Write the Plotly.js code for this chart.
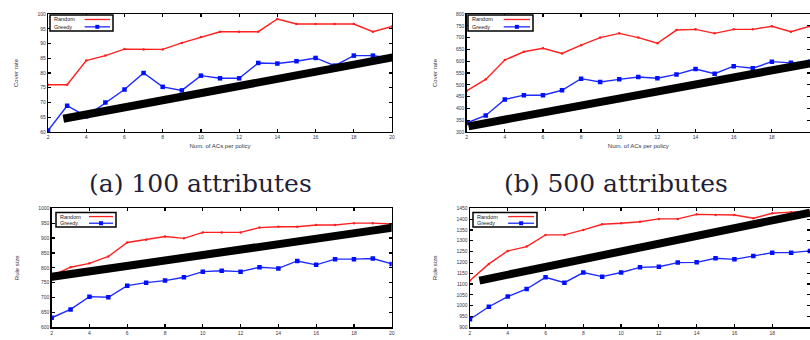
<!DOCTYPE html>
<html>
<head>
<meta charset="utf-8">
<script src="https://cdn.plot.ly/plotly-3.0.1.min.js"></script>
<style>html,body{margin:0;padding:0;background:#fff;}#chart{width:810px;height:340px;}</style>
</head>
<body>
<div id="chart"></div>
<script>
// x values: number of ACs per policy
const acs = [2,3,4,5,6,7,8,9,10,11,12,13,14,15,16,17,18,19,20];
const xTicks = [2,4,6,8,10,12,14,16,18,20];
const seriesNames = ["Random", "Greedy"];
const captions = ["(a) 100 attributes", "(b) 500 attributes"];

// (a) top-left: cover rate, 100 attributes
const aRandom = [76,76,84.2,85.9,88.1,88,88,90.2,92.2,94,94,94,98.3,96.6,96.6,96.6,96.6,94,95.8];
const aGreedy = [60.5,68.9,65.3,70,74.4,80,75.3,74.1,79.1,78.2,78.2,83.4,83.2,84,85.1,82.5,85.9,85.9,85];
const aTrendX = [2.8,20.2];
const aTrendY = [64.5,85.5];

// (b) top-right: cover rate, 500 attributes
const bRandom = [474,523,605,640,655,633,668,700,718,700,676,732,735,718,735,735,748,725,748];
const bGreedy = [338,370,438,456,456,477,526,512,523,533,528,544,567,547,579,570,598,593,598];
const bTrendX = [2.1,20];
const bTrendY = [324,591];

// (c) bottom-left
const cRandom = [773,802,815,838,885,894,905,899,919,919,919,935,938,938,944,944,950,950,947];
const cGreedy = [632,660,703,701,740,750,757,768,787,790,787,802,798,823,810,829,829,831,813];
const cTrendX = [1.8,20.2];
const cTrendY = [768,936];

// (d) bottom-right
const dRandom = [1116,1193,1253,1273,1327,1327,1350,1376,1381,1388,1401,1401,1422,1419,1419,1404,1427,1432,1435];
const dGreedy = [937,995,1042,1077,1131,1106,1153,1134,1153,1177,1180,1199,1200,1219,1214,1230,1245,1245,1253];
const dTrendX = [2.5,20];
const dTrendY = [1116,1430];

const yRanges = [[60,100],[300,800],[600,1000],[900,1450]];
const yDtick = [5,50,50,50];
const yTitles = ["Cover rate","Cover rate","Rule size","Rule size"];
const xTitle = "Num. of ACs per policy";

const panels = [
  {r:aRandom,g:aGreedy,tx:aTrendX,ty:aTrendY},
  {r:bRandom,g:bGreedy,tx:bTrendX,ty:bTrendY},
  {r:cRandom,g:cGreedy,tx:cTrendX,ty:cTrendY},
  {r:dRandom,g:dGreedy,tx:dTrendX,ty:dTrendY}
];

const W = 810, H = 340;
const px = v => v / W;
const py = v => 1 - v / H;

const xDomains = [[0.0593,0.4840],[0.5761,1.0],[0.0638,0.4836],[0.5802,1.0]];
const yDomains = [[0.6118,0.9588],[0.6118,0.9588],[0.0374,0.3874],[0.0374,0.3874]];
// legend boxes in pixels: [left, top, right, bottom]
const legendBoxes = [[50,15,113,31],[468,15,533,31],[56,212.5,116,227],[473,212.5,537,227]];

const tickFont = {family:"Liberation Sans, Arial, sans-serif", size:5, color:"#334"};
const data = [];
const layout = {
  width:W, height:H,
  margin:{l:0,r:0,t:0,b:0},
  paper_bgcolor:"#fff", plot_bgcolor:"#fff",
  showlegend:false,
  annotations:[], shapes:[],
  font:{family:"Liberation Sans, Arial, sans-serif", size:5, color:"#334"}
};
const RED = "#ff2020", BLUE = "#1f2bff";

panels.forEach((p,i)=>{
  const n = i+1;
  const xa = n===1 ? "x" : "x"+n;
  const ya = n===1 ? "y" : "y"+n;
  data.push({x:acs, y:p.r, xaxis:xa, yaxis:ya, name:seriesNames[0],
    mode:"lines+markers", line:{color:RED, width:1.4}, marker:{size:2.5, color:RED}});
  data.push({x:acs, y:p.g, xaxis:xa, yaxis:ya, name:seriesNames[1],
    mode:"lines+markers", line:{color:BLUE, width:1.4}, marker:{size:4.5, symbol:"square", color:"#0010ff"}});
  data.push({x:p.tx, y:p.ty, xaxis:xa, yaxis:ya, mode:"lines", cliponaxis:false,
    line:{color:"#000", width:8}, hoverinfo:"skip"});
  const xk = n===1 ? "xaxis" : "xaxis"+n;
  const yk = n===1 ? "yaxis" : "yaxis"+n;
  layout[xk] = {domain:xDomains[i], range:[2,20], anchor:ya, tickvals:xTicks, ticktext:xTicks.map(String),
    ticks:"inside", ticklen:3, tickwidth:1.2, tickcolor:"#000", mirror:"ticks", showline:true, linecolor:"#000", linewidth:1.3,
    showgrid:false, zeroline:false, tickfont:tickFont,
    title:{text: i<2 ? xTitle : "", font:{size:6, color:"#334"}, standoff:4}};
  layout[yk] = {domain:yDomains[i], range:yRanges[i], anchor:xa, dtick:yDtick[i], tick0:yRanges[i][0],
    ticks:"inside", ticklen:3, tickwidth:1.2, tickcolor:"#000", mirror:"ticks", showline:true, linecolor:"#000", linewidth:1.3,
    showgrid:false, zeroline:false, tickfont:tickFont,
    title:{text:yTitles[i], font:{size:6, color:"#334"}, standoff:18}};

  // compact gnuplot-style key: label left, sample right
  const [L,T,R,B] = legendBoxes[i];
  layout.shapes.push({type:"rect", xref:"paper", yref:"paper", x0:px(L), x1:px(R), y0:py(B), y1:py(T),
    line:{color:"#000", width:1.5}, fillcolor:"#fff", layer:"above"});
  const rowY = [T + (B-T)*0.28, T + (B-T)*0.74];
  const cols = [RED, BLUE];
  rowY.forEach((yy,k)=>{
    layout.annotations.push({text:seriesNames[k], xref:"paper", yref:"paper", x:px(L+2), y:py(yy),
      xanchor:"left", yanchor:"middle", showarrow:false, font:{size:5.5, color:"#222"}});
    layout.shapes.push({type:"line", xref:"paper", yref:"paper", x0:px(L+(R-L)*0.55), x1:px(R-3), y0:py(yy), y1:py(yy),
      line:{color:cols[k], width:1.3}, layer:"above"});
  });
  const mx = L+(R-L)*0.55 + ((R-3)-(L+(R-L)*0.55))/2;
  layout.shapes.push({type:"rect", xref:"paper", yref:"paper", x0:px(mx-2), x1:px(mx+2), y0:py(rowY[1]+2), y1:py(rowY[1]-2),
    line:{width:0}, fillcolor:"#0010ff", layer:"above"});
});

layout.annotations.push({text:captions[0], x:px(200), y:py(183), xref:"paper", yref:"paper", showarrow:false,
  font:{family:"DejaVu Serif, serif", size:25, color:"#1f1f3a"}, xanchor:"center", yanchor:"middle"});
layout.annotations.push({text:captions[1], x:px(616), y:py(183), xref:"paper", yref:"paper", showarrow:false,
  font:{family:"DejaVu Serif, serif", size:25, color:"#1f1f3a"}, xanchor:"center", yanchor:"middle"});

Plotly.newPlot("chart", data, layout, {displayModeBar:false, staticPlot:true});
</script>
</body>
</html>
